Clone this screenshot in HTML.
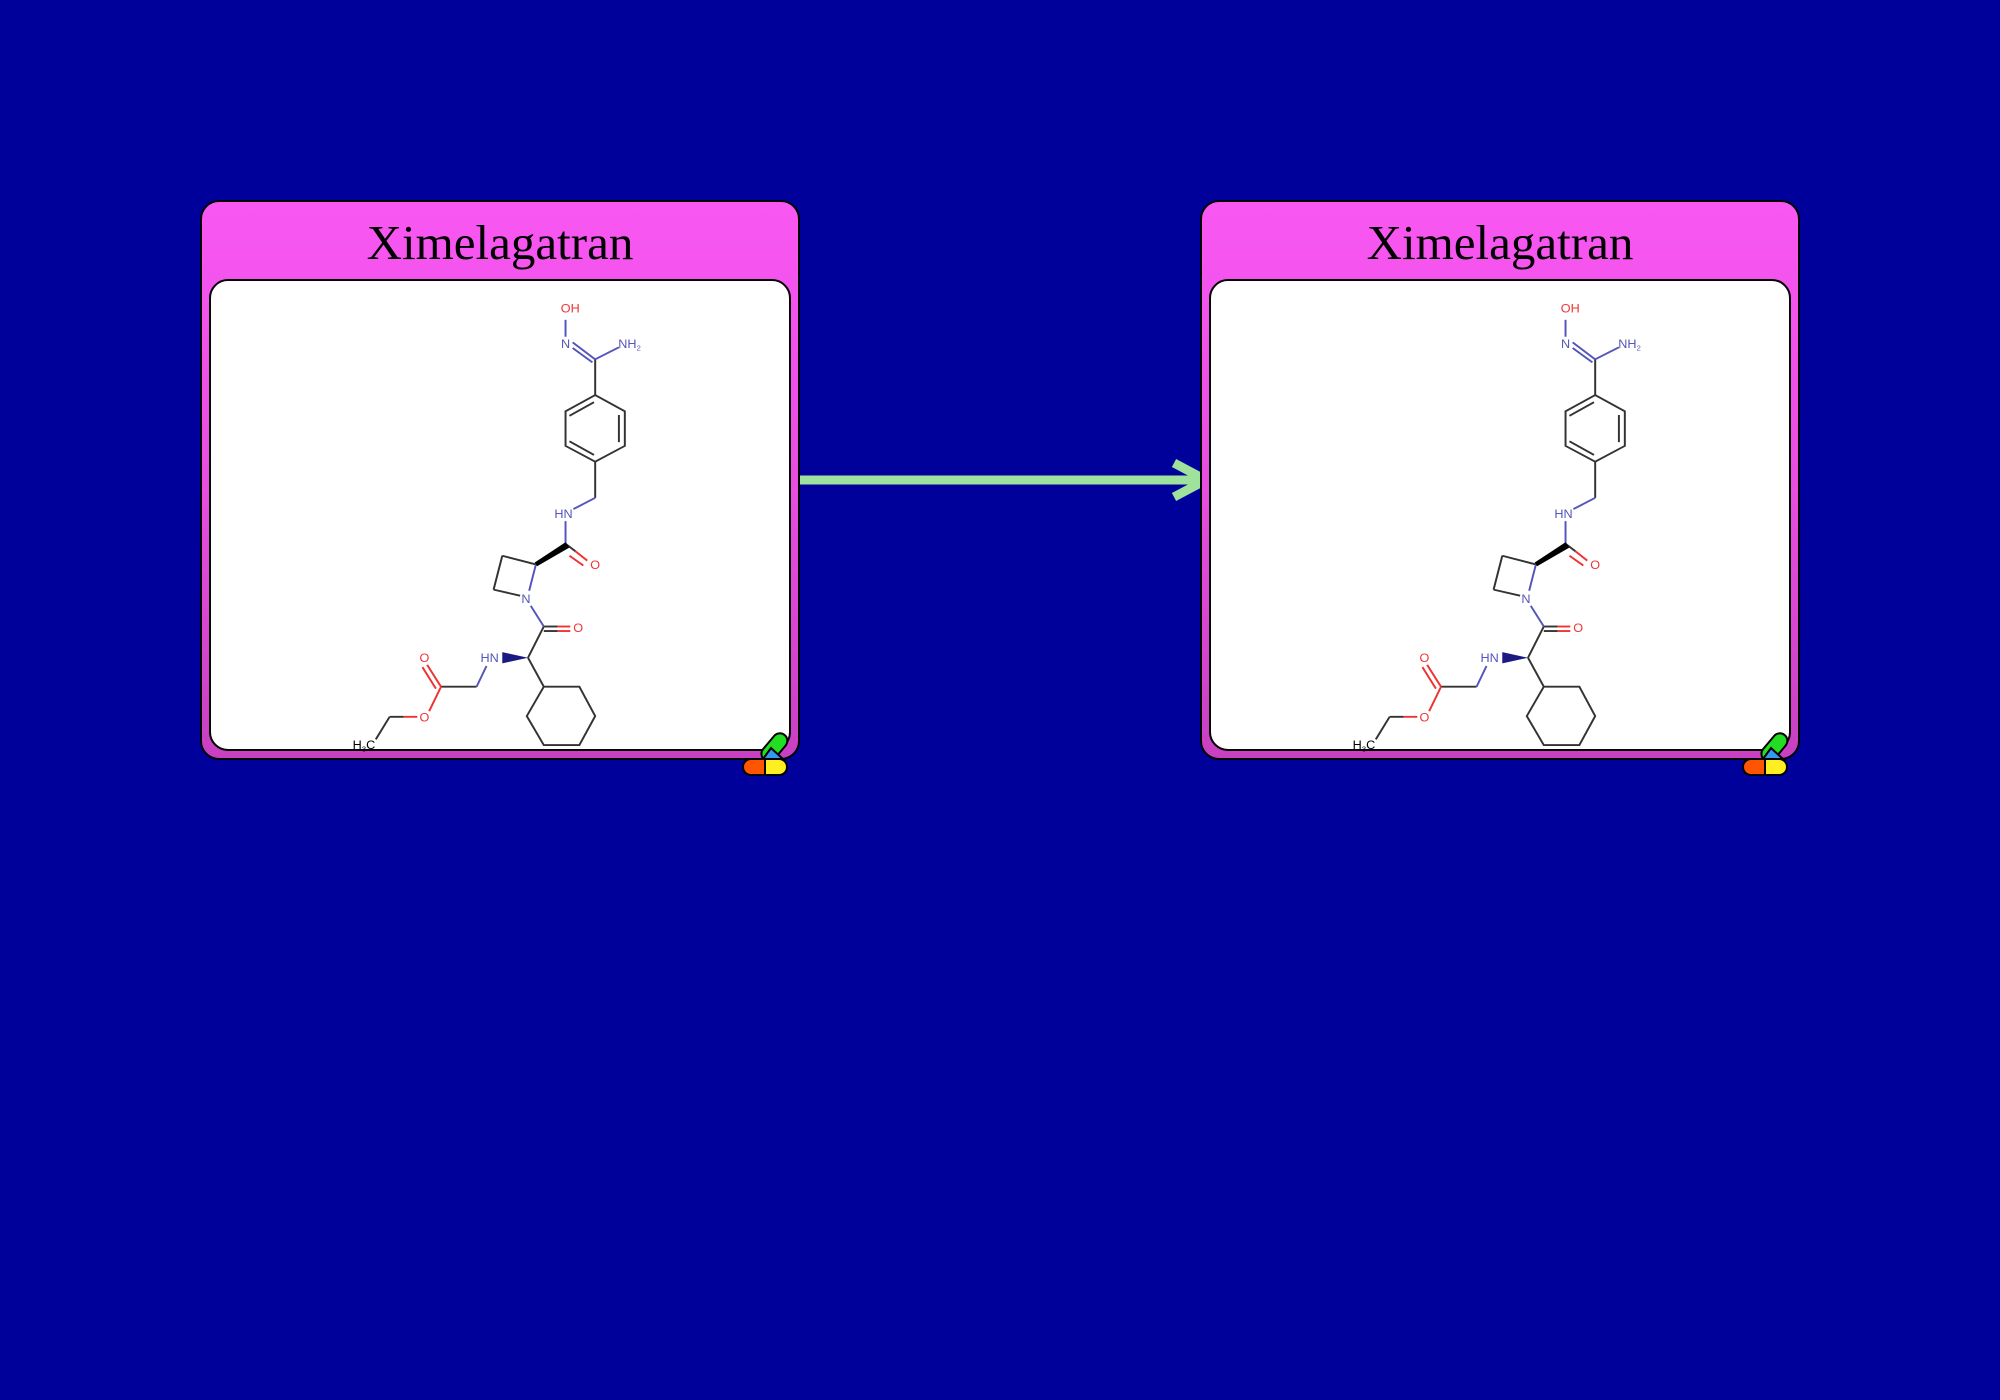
<!DOCTYPE html>
<html><head><meta charset="utf-8"><style>
html,body{margin:0;padding:0;background:#00009a;}
body{width:2000px;height:1400px;overflow:hidden;}
</style></head><body>
<svg width="2000" height="1400" xmlns="http://www.w3.org/2000/svg" style="position:absolute;left:0;top:0">
<defs>
<linearGradient id="g" x1="0" y1="0" x2="0" y2="1"><stop offset="0" stop-color="#f957f2"/><stop offset="0.5" stop-color="#e84ee2"/><stop offset="1" stop-color="#c840c2"/></linearGradient>
</defs>
<rect width="2000" height="1400" fill="#00009a"/>
<line x1="800" y1="480" x2="1200" y2="480" stroke="#9ee29e" stroke-width="9"/>
<polyline points="1174,463 1206,480 1174,497" fill="none" stroke="#9ee29e" stroke-width="9"/>

<g id="n1">
<rect x="201" y="201" width="598" height="558" rx="18" fill="url(#g)" stroke="#000" stroke-width="2"/>
<text x="500" y="259" font-family="Liberation Serif, serif" font-size="49" text-anchor="middle" fill="#000">Ximelagatran</text>
<rect x="210" y="280" width="580" height="470" rx="18" fill="#fff" stroke="#000" stroke-width="2"/>
<g transform="translate(190,190) scale(0.3953,0.3763)" stroke-width="5" fill="none">
<g stroke="#333">
<line x1="1025" y1="450" x2="1025" y2="545"/>
<polygon points="1025,545 1100,588 1100,680 1025,722 950,680 950,588"/>
<line x1="960" y1="600" x2="1022" y2="564"/><line x1="1085" y1="598" x2="1085" y2="670"/><line x1="960" y1="668" x2="1022" y2="704"/>
<line x1="1025" y1="722" x2="1025" y2="818"/>
<line x1="875" y1="995" x2="790" y2="972"/><line x1="790" y1="972" x2="768" y2="1062"/>
<line x1="768" y1="1062" x2="835" y2="1078"/>
<line x1="895" y1="1160" x2="855" y2="1243"/>
<line x1="895" y1="1160" x2="930" y2="1160"/><line x1="895" y1="1172" x2="930" y2="1172"/>
<line x1="855" y1="1243" x2="895" y2="1320"/>
<polygon points="895,1320 985,1320 1025,1398 985,1475 895,1475 852,1398"/>
<line x1="725" y1="1320" x2="635" y2="1320"/>
<line x1="505" y1="1400" x2="470" y2="1460"/>
<line x1="950" y1="940" x2="975" y2="960"/>
</g>
<g stroke="#5555bb">
<line x1="950" y1="345" x2="950" y2="390"/>
<line x1="968" y1="405" x2="1025" y2="450"/><line x1="968" y1="420" x2="1018" y2="458"/>
<line x1="1025" y1="450" x2="1085" y2="418"/>
<line x1="1025" y1="818" x2="970" y2="848"/>
<line x1="950" y1="880" x2="950" y2="940"/>
<line x1="858" y1="1065" x2="875" y2="995"/>
<line x1="862" y1="1105" x2="895" y2="1160"/>
<line x1="750" y1="1265" x2="725" y2="1320"/>
</g>
<g stroke="#ee3333">
<line x1="975" y1="960" x2="1005" y2="985"/><line x1="960" y1="972" x2="995" y2="998"/>
<line x1="930" y1="1160" x2="962" y2="1160"/><line x1="930" y1="1172" x2="962" y2="1172"/>
<line x1="635" y1="1320" x2="600" y2="1262"/><line x1="622" y1="1325" x2="588" y2="1268"/>
<line x1="635" y1="1320" x2="605" y2="1385"/>
<line x1="575" y1="1400" x2="540" y2="1400"/>
</g>
<line x1="540" y1="1400" x2="505" y2="1400" stroke="#333"/>
<polygon points="950,936 960,950 878,1000 872,990" fill="#000" stroke="none"/>
<polygon points="855,1243 790,1228 790,1258" fill="#1a1a80" stroke="none"/>
<g font-family="Liberation Sans, sans-serif" font-size="32" stroke="none" text-anchor="middle">
<text x="962" y="326" fill="#ee3333">OH</text>
<text x="950" y="420" fill="#5555bb">N</text>
<text x="1112" y="420" fill="#5555bb">NH<tspan font-size="20" dy="6">2</tspan></text>
<text x="945" y="872" fill="#5555bb">HN</text>
<text x="1025" y="1007" fill="#ee3333">O</text>
<text x="850" y="1097" fill="#5555bb">N</text>
<text x="982" y="1174" fill="#ee3333">O</text>
<text x="758" y="1254" fill="#5555bb">HN</text>
<text x="593" y="1254" fill="#ee3333">O</text>
<text x="593" y="1412" fill="#ee3333">O</text>
<text x="440" y="1486" fill="#000">H<tspan font-size="20" dy="6">3</tspan><tspan dy="-6">C</tspan></text>
</g>
</g>
<g stroke="#000" stroke-width="2">
<rect x="767" y="731" width="15" height="32" rx="7.5" fill="#22dd22" transform="rotate(40 774 747)"/>
<polygon points="763,759 771,748 783,759" fill="#3399ee"/>
<path d="M751,759 H765 V775 H751 A8,8 0 0 1 751,759 Z" fill="#ff5500"/>
<path d="M765,759 H779 A8,8 0 0 1 779,775 H765 Z" fill="#ffee22"/>
</g>
</g>
<use href="#n1" x="1000" y="0"/>
</svg>
</body></html>
